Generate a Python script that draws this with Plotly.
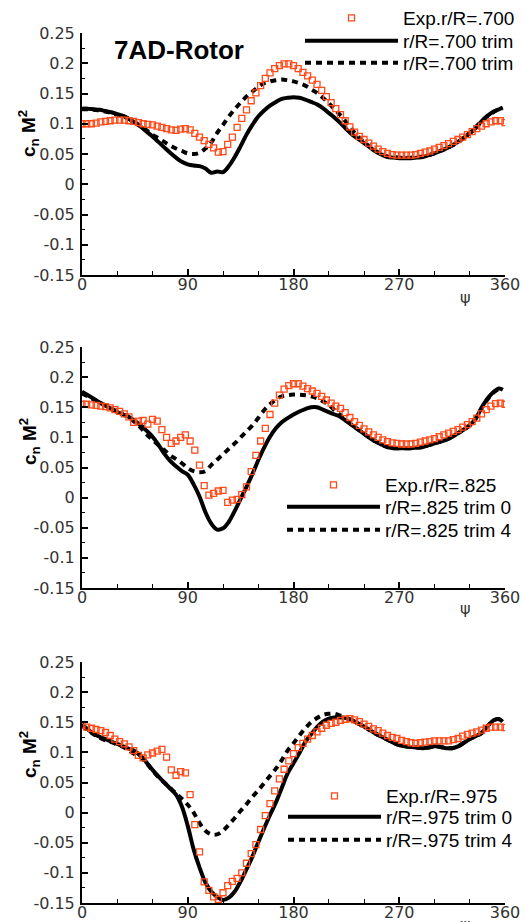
import plotly.graph_objects as go

# ---------------- data ----------------
psi_line = list(range(0, 360, 5)) + [358]
psi_exp = list(range(0, 361, 4))

# Panel 1 (r/R = .700)
exp_700 = [0.100, 0.100, 0.100, 0.101, 0.103, 0.104, 0.105, 0.106, 0.106, 0.106,
           0.105, 0.104, 0.102, 0.100, 0.099, 0.098, 0.096, 0.094, 0.092, 0.090,
           0.089, 0.091, 0.092, 0.090, 0.084, 0.078, 0.072, 0.066, 0.060, 0.053,
           0.054, 0.066, 0.078, 0.094, 0.109, 0.123, 0.138, 0.151, 0.163, 0.175,
           0.184, 0.191, 0.196, 0.199, 0.199, 0.196, 0.191, 0.185, 0.179, 0.172,
           0.165, 0.155, 0.145, 0.135, 0.125, 0.115, 0.105, 0.095, 0.086, 0.079,
           0.074, 0.068, 0.063, 0.058, 0.054, 0.051, 0.049, 0.048, 0.048, 0.048,
           0.048, 0.049, 0.051, 0.053, 0.055, 0.058, 0.061, 0.064, 0.067, 0.071,
           0.074, 0.078, 0.082, 0.087, 0.092, 0.096, 0.100, 0.103, 0.105, 0.105,
           0.102]
t0_700 = [0.125, 0.125, 0.124, 0.123, 0.121, 0.119, 0.116, 0.113, 0.108, 0.102,
          0.095, 0.087, 0.079, 0.070, 0.061, 0.052, 0.044, 0.037, 0.033, 0.031,
          0.030, 0.026, 0.019, 0.021, 0.020, 0.030, 0.045, 0.063, 0.082, 0.098,
          0.112, 0.122, 0.130, 0.136, 0.141, 0.143, 0.144, 0.143, 0.140, 0.136,
          0.132, 0.126, 0.118, 0.110, 0.101, 0.091, 0.082, 0.075, 0.068, 0.061,
          0.054, 0.049, 0.045, 0.044, 0.043, 0.043, 0.043, 0.044, 0.045, 0.048,
          0.051, 0.055, 0.059, 0.064, 0.070, 0.077, 0.084, 0.093, 0.104, 0.113,
          0.120, 0.124, 0.127]
t4_700 = [0.124, 0.124, 0.123, 0.122, 0.120, 0.118, 0.115, 0.112, 0.108, 0.102,
          0.096, 0.089, 0.082, 0.076, 0.070, 0.064, 0.059, 0.055, 0.051, 0.050,
          0.052, 0.059, 0.069, 0.085, 0.098, 0.112, 0.124, 0.135, 0.145, 0.153,
          0.161, 0.167, 0.170, 0.172, 0.173, 0.172, 0.170, 0.167, 0.163, 0.157,
          0.151, 0.143, 0.134, 0.124, 0.114, 0.102, 0.090, 0.079, 0.070, 0.062,
          0.055, 0.050, 0.046, 0.045, 0.044, 0.044, 0.044, 0.045, 0.046, 0.048,
          0.051, 0.055, 0.059, 0.064, 0.070, 0.077, 0.085, 0.094, 0.104, 0.112,
          0.119, 0.124, 0.126]

# Panel 2 (r/R = .825)
exp_825 = [0.155, 0.155, 0.154, 0.153, 0.152, 0.151, 0.149, 0.146, 0.143, 0.139,
           0.134, 0.125, 0.127, 0.128, 0.122, 0.130, 0.127, 0.113, 0.100, 0.090,
           0.094, 0.100, 0.104, 0.094, 0.079, 0.054, 0.020, 0.004, 0.007, 0.011,
           0.012, -0.008, -0.004, -0.003, 0.005, 0.018, 0.043, 0.070, 0.094, 0.115,
           0.138, 0.157, 0.170, 0.180, 0.186, 0.189, 0.189, 0.185, 0.181, 0.177,
           0.173, 0.168, 0.162, 0.157, 0.152, 0.148, 0.141, 0.133, 0.126, 0.120,
           0.114, 0.109, 0.104, 0.100, 0.096, 0.093, 0.091, 0.090, 0.089, 0.089,
           0.089, 0.090, 0.092, 0.094, 0.096, 0.098, 0.101, 0.104, 0.107, 0.110,
           0.113, 0.117, 0.121, 0.126, 0.132, 0.139, 0.146, 0.152, 0.156, 0.157,
           0.155]
t0_825 = [0.176, 0.170, 0.164, 0.158, 0.153, 0.147, 0.142, 0.138, 0.134, 0.127,
          0.120, 0.111, 0.101, 0.088, 0.073, 0.061, 0.052, 0.044, 0.038, 0.022,
          0.002, -0.024, -0.043, -0.053, -0.051, -0.040, -0.022, -0.002, 0.018, 0.039,
          0.062, 0.083, 0.101, 0.115, 0.125, 0.132, 0.138, 0.143, 0.147, 0.150,
          0.150, 0.146, 0.142, 0.138, 0.134, 0.127, 0.120, 0.113, 0.106, 0.099,
          0.093, 0.088, 0.084, 0.082, 0.082, 0.082, 0.082, 0.083, 0.084, 0.087,
          0.090, 0.093, 0.096, 0.101, 0.107, 0.113, 0.120, 0.131, 0.149, 0.164,
          0.175, 0.181, 0.179]
t4_825 = [0.173, 0.168, 0.163, 0.158, 0.153, 0.148, 0.143, 0.138, 0.133, 0.125,
          0.116, 0.105, 0.096, 0.087, 0.079, 0.070, 0.064, 0.057, 0.049, 0.044,
          0.042, 0.044, 0.054, 0.063, 0.072, 0.081, 0.090, 0.100, 0.110, 0.120,
          0.132, 0.145, 0.155, 0.163, 0.168, 0.170, 0.171, 0.171, 0.170, 0.168,
          0.165, 0.160, 0.154, 0.145, 0.137, 0.128, 0.120, 0.113, 0.106, 0.099,
          0.093, 0.088, 0.084, 0.082, 0.082, 0.082, 0.082, 0.083, 0.084, 0.087,
          0.090, 0.093, 0.096, 0.101, 0.107, 0.113, 0.120, 0.131, 0.148, 0.163,
          0.174, 0.180, 0.179]

# Panel 3 (r/R = .975)
exp_975 = [0.145, 0.142, 0.140, 0.138, 0.136, 0.133, 0.128, 0.122, 0.118, 0.114,
           0.109, 0.103, 0.095, 0.091, 0.096, 0.099, 0.102, 0.105, 0.092, 0.071,
           0.062, 0.068, 0.066, 0.030, -0.020, -0.065, -0.115, -0.129, -0.140, -0.144,
           -0.133, -0.121, -0.114, -0.109, -0.100, -0.084, -0.068, -0.053, -0.028, -0.005,
           0.015, 0.036, 0.056, 0.072, 0.086, 0.098, 0.108, 0.115, 0.122, 0.128,
           0.134, 0.140, 0.145, 0.148, 0.150, 0.153, 0.155, 0.156, 0.154, 0.151,
           0.147, 0.143, 0.139, 0.136, 0.132, 0.128, 0.125, 0.123, 0.120, 0.118,
           0.116, 0.115, 0.116, 0.117, 0.118, 0.119, 0.119, 0.119, 0.119, 0.121,
           0.123, 0.127, 0.130, 0.132, 0.134, 0.137, 0.140, 0.142, 0.142, 0.142,
           0.141]
t0_975 = [0.147, 0.138, 0.131, 0.126, 0.122, 0.118, 0.114, 0.110, 0.106, 0.102,
          0.094, 0.083, 0.071, 0.060, 0.050, 0.040, 0.030, 0.010, -0.022, -0.061,
          -0.091, -0.116, -0.131, -0.140, -0.145, -0.141, -0.131, -0.114, -0.094, -0.073,
          -0.049, -0.026, -0.004, 0.017, 0.041, 0.065, 0.082, 0.099, 0.117, 0.130,
          0.142, 0.151, 0.156, 0.158, 0.158, 0.157, 0.153, 0.148, 0.143, 0.137,
          0.131, 0.126, 0.121, 0.116, 0.112, 0.110, 0.109, 0.108, 0.107, 0.108,
          0.110, 0.109, 0.107, 0.107, 0.110, 0.116, 0.122, 0.127, 0.132, 0.143,
          0.153, 0.155, 0.151]
t4_975 = [0.145, 0.137, 0.130, 0.124, 0.120, 0.117, 0.113, 0.109, 0.103, 0.097,
          0.092, 0.082, 0.070, 0.059, 0.050, 0.041, 0.032, 0.023, 0.013, 0.000,
          -0.017, -0.030, -0.036, -0.036, -0.030, -0.020, -0.009, 0.003, 0.014, 0.026,
          0.037, 0.049, 0.061, 0.073, 0.087, 0.103, 0.115, 0.128, 0.140, 0.150,
          0.157, 0.162, 0.164, 0.164, 0.161, 0.157, 0.153, 0.148, 0.143, 0.137,
          0.131, 0.126, 0.121, 0.116, 0.112, 0.110, 0.109, 0.108, 0.107, 0.108,
          0.110, 0.109, 0.107, 0.107, 0.110, 0.116, 0.122, 0.127, 0.132, 0.143,
          0.153, 0.155, 0.151]

panels = [
    ("Exp.r/R=.700", exp_700, "r/R=.700 trim", t0_700, "r/R=.700 trim", t4_700),
    ("Exp.r/R=.825", exp_825, "r/R=.825 trim 0", t0_825, "r/R=.825 trim 4", t4_825),
    ("Exp.r/R=.975", exp_975, "r/R=.975 trim 0", t0_975, "r/R=.975 trim 4", t4_975),
]

x_ticks = [0, 90, 180, 270, 360]
y_ticks = [-0.15, -0.1, -0.05, 0, 0.05, 0.1, 0.15, 0.2, 0.25]
y_ticktext = ["-0.15", "-0.1", "-0.05", "0", "0.05", "0.1", "0.15", "0.2", "0.25"]

# ---------------- layout helpers ----------------
W, H = 525, 922
def px_x(p):
    return p / W
def px_y(p):
    return (H - p) / H

x_dom = [px_x(82), px_x(505)]
y_doms = [(33, 275), (347, 588), (662, 903)]
legend_x = [300, 282, 283]
legend_rows = [(18, 41, 63), (485, 507, 530), (796, 817, 840)]
ytitle_y = [134, 442, 755]
psi_y = [297, 608, 924]

ORANGE = "#FF4A1A"
TICKFONT = dict(family="DejaVu Sans", size=16, color="#333")
fig = go.Figure()
layout_upd = {}

for i, (ne, ex, n0, t0, n4, t4) in enumerate(panels):
    k = "" if i == 0 else str(i + 1)
    lgs = []
    for j in range(3):
        idx = i * 3 + j + 1
        lgs.append("legend" if idx == 1 else "legend" + str(idx))

    fig.add_trace(go.Scatter(x=psi_line, y=t0, mode="lines", name=n0,
                             line=dict(color="black", width=4, shape="spline"),
                             xaxis="x" + k, yaxis="y" + k, legend=lgs[1]))
    fig.add_trace(go.Scatter(x=psi_line, y=t4, mode="lines", name=n4,
                             line=dict(color="black", width=4, dash="6px,5px", shape="spline"),
                             xaxis="x" + k, yaxis="y" + k, legend=lgs[2]))
    fig.add_trace(go.Scatter(x=psi_exp, y=ex, mode="markers", name=ne,
                             marker=dict(symbol="square-open", size=6, color=ORANGE,
                                         line=dict(width=1.3, color=ORANGE)),
                             xaxis="x" + k, yaxis="y" + k, legend=lgs[0]))

    top, bot = y_doms[i]
    layout_upd["xaxis" + k] = dict(
        domain=x_dom, range=[0, 360], anchor="y" + k,
        tickvals=x_ticks, ticks="inside", ticklen=6, tickwidth=1.5,
        tickcolor="black", showline=True, linecolor="black", linewidth=2,
        showgrid=False, zeroline=False, ticklabelstandoff=-6, tickfont=TICKFONT,
        minor=dict(dtick=30, ticks="inside", ticklen=4, tickwidth=1,
                   tickcolor="black", showgrid=False))
    layout_upd["yaxis" + k] = dict(
        domain=[px_y(bot), px_y(top)], range=[-0.15, 0.25], anchor="x" + k,
        tickvals=y_ticks, ticktext=y_ticktext, ticks="inside", ticklen=6,
        tickwidth=1.5, tickcolor="black", showline=True, linecolor="black",
        linewidth=2, showgrid=False, zeroline=False, ticklabelstandoff=2,
        tickfont=TICKFONT,
        minor=dict(dtick=0.025, ticks="inside", ticklen=3, tickwidth=1,
                   tickcolor="black", showgrid=False))
    for j in range(3):
        layout_upd[lgs[j]] = dict(
            x=px_x(legend_x[i]), y=px_y(legend_rows[i][j]), xanchor="left",
            yanchor="middle", bgcolor="rgba(0,0,0,0)", borderwidth=0, itemwidth=93,
            font=dict(family="Liberation Sans", size=19, color="black"))

    fig.add_annotation(x=px_x(29), y=px_y(ytitle_y[i]), xref="paper", yref="paper",
                       xanchor="center", yanchor="middle",
                       text="<b>c<sub>n</sub> M<sup>2</sup></b>", textangle=-90,
                       showarrow=False, font=dict(family="Liberation Sans", size=19, color="black"))
    fig.add_annotation(x=px_x(465), y=px_y(psi_y[i]), xref="paper", yref="paper",
                       xanchor="center", yanchor="middle",
                       text="ψ", showarrow=False, font=TICKFONT)

fig.add_annotation(x=px_x(179), y=px_y(50), xref="paper", yref="paper",
                   xanchor="center", yanchor="middle",
                   text="<b>7AD-Rotor</b>", showarrow=False,
                   font=dict(family="Liberation Sans", size=26, color="black"))

fig.update_layout(**layout_upd)
fig.update_layout(width=W, height=H,
                  margin=dict(l=0, r=0, t=0, b=0, autoexpand=False),
                  paper_bgcolor="white", plot_bgcolor="white", showlegend=True)

fig.write_html("out.html")
